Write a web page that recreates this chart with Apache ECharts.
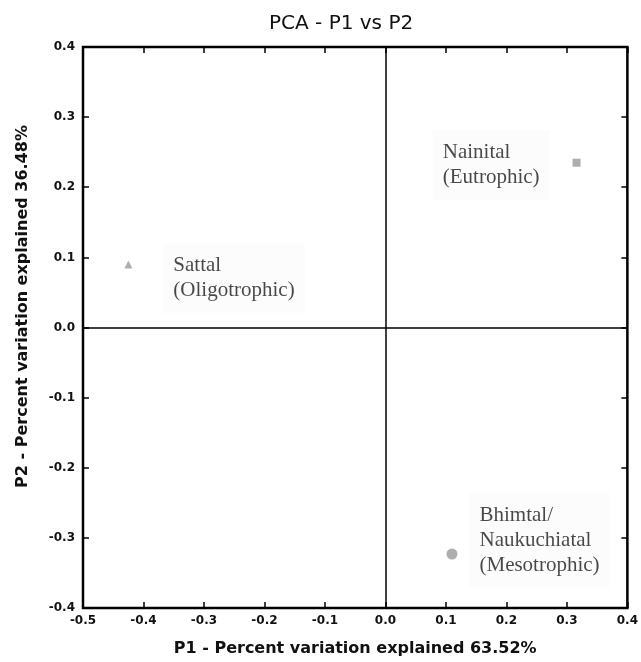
<!DOCTYPE html>
<html>
<head>
<meta charset="utf-8">
<script src="https://cdn.jsdelivr.net/npm/echarts@6/dist/echarts.min.js"></script>
<style>
  html, body { margin: 0; padding: 0; background: #fff; }
  #main { width: 641px; height: 662px; }
</style>
</head>
<body>
<div id="main"></div>
<script>
// lakes and their scores on the first two components
var lakeNames = [['Sattal', '(Oligotrophic)'], ['Nainital', '(Eutrophic)'], ['Bhimtal/', 'Naukuchiatal', '(Mesotrophic)']];
var p1Values = [-0.425, 0.316, 0.11];
var p2Values = [0.09, 0.235, -0.323];
var lakeSymbols = ['triangle', 'rect', 'circle'];
var xTicks = [-0.5, 0.4, 0.1];
var yTicks = [-0.4, 0.4, 0.1];

var myChart = echarts.init(document.getElementById('main'));

// label placement for each point
var labelSetup = [
    { position: 'right', distance: 31, offset: [0, 14] },
    { position: 'left', distance: 23, offset: [0, 2] },
    { position: 'right', distance: 12, offset: [0, -14] }
];
var symbolSizes = [8, 8, 11];

var series = [];
for (var i = 0; i < lakeNames.length; i++) {
    // each line left aligned inside its box
    var txt = lakeNames[i].map(function (s) { return '{t|' + s + '}'; }).join('\n');
    series.push({
        type: 'scatter',
        name: lakeNames[i].join(' '),
        symbol: lakeSymbols[i],
        symbolSize: symbolSizes[i],
        itemStyle: { color: '#9a9a9a' },
        data: [[p1Values[i], p2Values[i]]],
        label: {
            show: true,
            formatter: txt,
            position: labelSetup[i].position,
            distance: labelSetup[i].distance,
            offset: labelSetup[i].offset,
            align: labelSetup[i].position == 'left' ? 'right' : 'left',
            backgroundColor: '#fbfbfb',
            padding: 10,
            rich: {
                t: {
                    fontFamily: 'Liberation Serif',
                    fontSize: 21,
                    lineHeight: 25,
                    color: '#1a1a1a',
                    align: 'left'
                }
            }
        }
    });
}
// zero cross lines
series.push({
    type: 'scatter',
    data: [],
    silent: true,
    markLine: {
        silent: true,
        symbol: 'none',
        label: { show: false },
        lineStyle: { color: '#000', width: 1.5, type: 'solid' },
        data: [{ xAxis: 0 }, { yAxis: 0 }]
    }
});

var tickFmt = function (v) { return v.toFixed(1); };
var tickLabel = { fontFamily: 'DejaVu Sans', fontWeight: 'bold', fontSize: 12, color: '#111', formatter: tickFmt };
var tickStyle = { inside: true, length: 6, lineStyle: { color: '#000', width: 1.5 } };

var option = {
    animation: false,
    title: {
        text: 'PCA - P1 vs P2',
        left: 264,
        top: 9,
        textStyle: { fontFamily: 'DejaVu Sans', fontWeight: 'normal', fontSize: 20, color: '#111' }
    },
    grid: {
        left: 83, right: 11, top: 47, bottom: 53,
        show: true, borderColor: '#000', borderWidth: 2.5, backgroundColor: 'transparent'
    },
    xAxis: [{
        type: 'value',
        min: xTicks[0], max: xTicks[1], interval: xTicks[2],
        name: 'P1 - Percent variation explained 63.52%',
        nameLocation: 'middle',
        nameGap: 33,
        nameTextStyle: { fontFamily: 'DejaVu Sans', fontWeight: 'bold', fontSize: 16, color: '#111' },
        axisLine: { show: false, onZero: false },
        axisTick: tickStyle,
        axisLabel: Object.assign({ margin: 7 }, tickLabel),
        splitLine: { show: false }
    }, {
        type: 'value', position: 'top',
        min: xTicks[0], max: xTicks[1], interval: xTicks[2],
        axisLine: { show: false, onZero: false },
        axisTick: tickStyle,
        axisLabel: { show: false },
        splitLine: { show: false }
    }],
    yAxis: [{
        type: 'value',
        min: yTicks[0], max: yTicks[1], interval: yTicks[2],
        name: 'P2 - Percent variation explained 36.48%',
        nameLocation: 'middle',
        nameGap: 52,
        nameTextStyle: { fontFamily: 'DejaVu Sans', fontWeight: 'bold', fontSize: 16, color: '#111', padding: [0, 0, 0, 42] },
        axisLine: { show: false, onZero: false },
        axisTick: tickStyle,
        axisLabel: Object.assign({ margin: 8 }, tickLabel),
        splitLine: { show: false }
    }, {
        type: 'value', position: 'right',
        min: yTicks[0], max: yTicks[1], interval: yTicks[2],
        axisLine: { show: false, onZero: false },
        axisTick: tickStyle,
        axisLabel: { show: false },
        splitLine: { show: false }
    }],
    series: series
};
myChart.setOption(option);
</script>
</body>
</html>
